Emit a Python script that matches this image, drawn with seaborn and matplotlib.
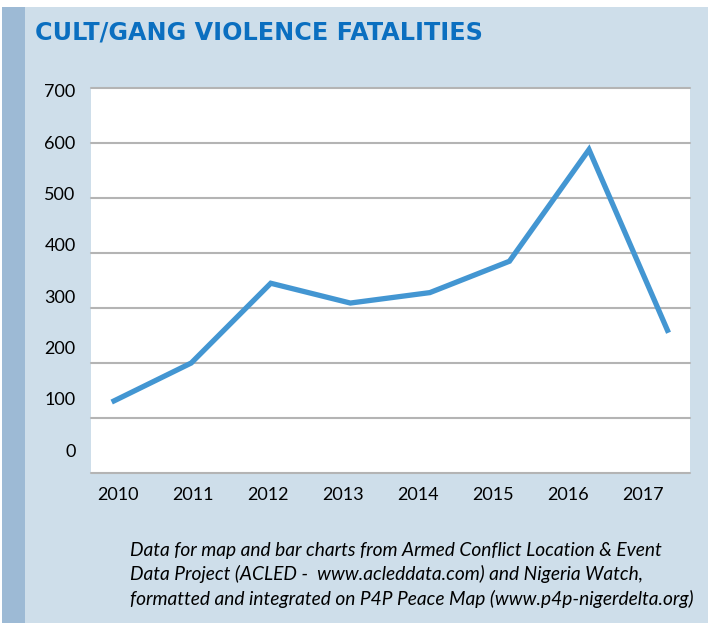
import matplotlib
matplotlib.use("Agg")
import matplotlib.pyplot as plt
import seaborn as sns
import pandas as pd
from matplotlib.patches import Rectangle

# ---- data ----
years = [2010, 2011, 2012, 2013, 2014, 2015, 2016, 2017]
fatalities = [129, 200, 345, 309, 328, 385, 588, 255]
y_ticks = [0, 100, 200, 300, 400, 500, 600, 700]
x_labels = ["2010", "2011", "2012", "2013", "2014", "2015", "2016", "2017"]
title = "CULT/GANG VIOLENCE FATALITIES"
note = ("Data for map and bar charts from Armed Conflict Location & Event\n"
        "Data Project (ACLED -  www.acleddata.com) and Nigeria Watch,\n"
        "formatted and integrated on P4P Peace Map (www.p4p-nigerdelta.org)")

df = pd.DataFrame({"year": years, "fatalities": fatalities})

sns.set_theme(style="white")
plt.rcParams["font.family"] = ["Lato", "DejaVu Sans"]

W, H = 708, 623
fig = plt.figure(figsize=(W / 100, H / 100), dpi=100, facecolor="white")

# background panels
fig.patches.append(Rectangle((2 / W, 0), 1, (H - 7) / H, transform=fig.transFigure,
                             facecolor="#cedeea", edgecolor="none", zorder=-10))
fig.patches.append(Rectangle((2 / W, 0), 23 / W, (H - 7) / H, transform=fig.transFigure,
                             facecolor="#9dbad5", edgecolor="none", zorder=-9))

rect = [91 / W, (H - 473) / H, (690 - 91) / W, (473 - 88) / H]
ax = fig.add_axes(rect)
ax.set_facecolor("white")
sns.lineplot(data=df, x="year", y="fatalities", ax=ax, color="#4396d2",
             linewidth=3.8, solid_joinstyle="miter", solid_capstyle="butt")
ax.set_ylim(0, 700)
ax.set_xlim(2009.74, 2017.27)
ax.set_yticks(y_ticks)
ax.set_yticklabels([])
ax.set_xticks([])
ax.yaxis.grid(True, color="#b4b4b4", linewidth=1.5)
for gl in ax.get_ygridlines():
    gl.set_clip_on(False)
ax.set_axisbelow(True)
ax.tick_params(left=False, bottom=False, length=0)
for s in ax.spines.values():
    s.set_visible(False)
ax.set_xlabel("")
ax.set_ylabel("")

# overlay axes carrying the tick labels (labels in the source are spaced
# slightly differently from the gridlines / points)
lab = fig.add_axes(rect, frameon=False)
lab.patch.set_visible(False)
lab.set_ylim(-44.8, 705.3)
lab.set_xlim(2009.64, 2017.63)
lab.set_yticks(y_ticks)
lab.set_yticklabels([str(v) for v in y_ticks])
lab.set_xticks(years)
lab.set_xticklabels(x_labels)
lab.tick_params(left=False, bottom=False, length=0, labelsize=13,
                labelcolor="black")
lab.tick_params(axis="y", pad=11)
lab.tick_params(axis="x", pad=10)
for s in lab.spines.values():
    s.set_visible(False)

fig.text(35 / W, 1 - 40 / H, title, fontsize=17.2, fontweight="bold",
         family=["DejaVu Sans"], color="#0b6fc0", va="baseline", ha="left")
fig.text(130 / W, 1 - 542 / H, note, fontsize=13.8, style="italic",
         color="black", va="top", ha="left", linespacing=1.42)

fig.savefig("out.png", dpi=100, facecolor=fig.get_facecolor())
